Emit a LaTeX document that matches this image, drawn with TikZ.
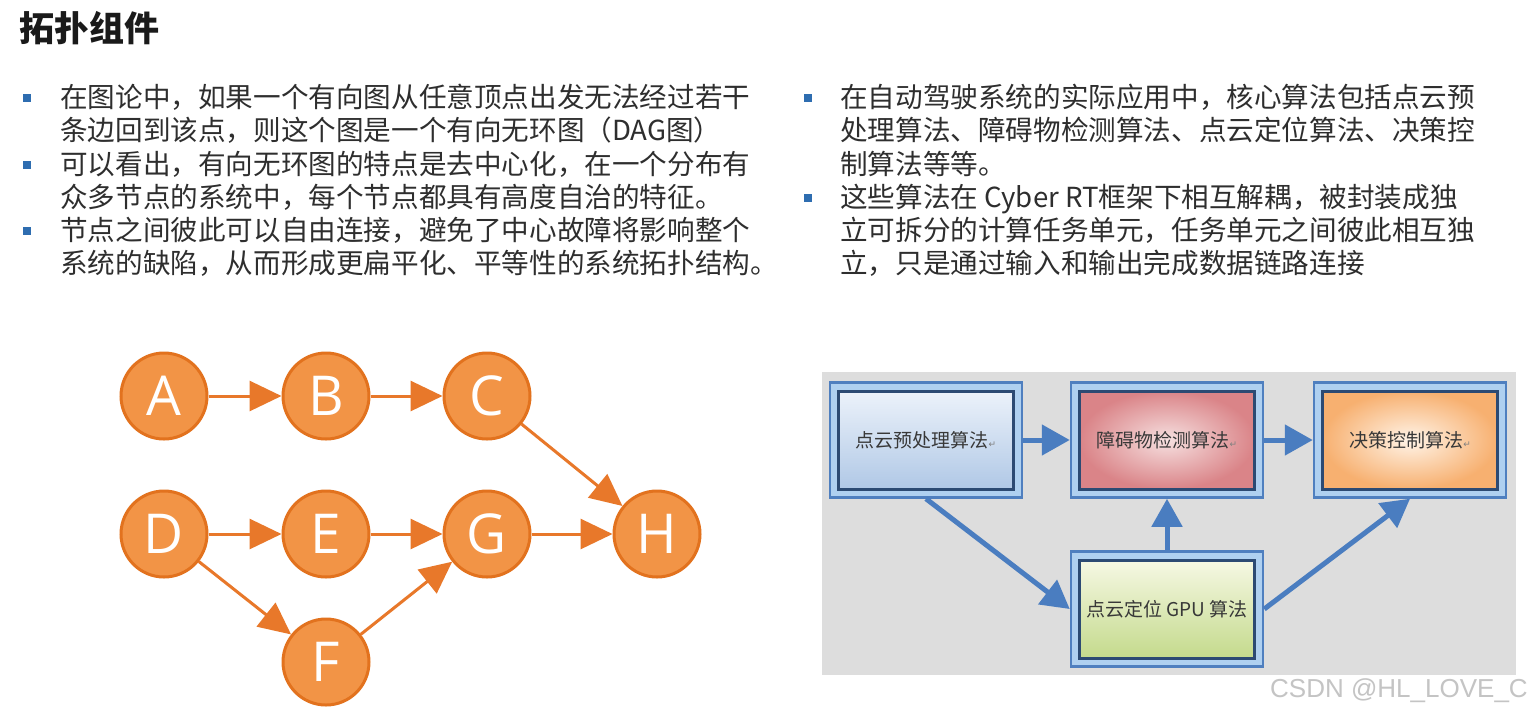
\documentclass[tikz,border=0pt]{standalone}
\usepackage{fontspec}
\newfontfamily\cjk{Noto Sans CJK SC}
\newfontfamily\letf{Open Sans}
\newfontfamily\wmf{Liberation Sans}
\newfontfamily\symf{DejaVu Sans}
\usetikzlibrary{arrows.meta}
\definecolor{txtgray}{HTML}{2E2E2E}
\definecolor{titleblk}{HTML}{1A1A1A}
\definecolor{bulletblue}{HTML}{2E6DB0}
\definecolor{ofill}{HTML}{F29446}
\definecolor{oborder}{HTML}{E2721E}
\definecolor{oarrow}{HTML}{E8782A}
\definecolor{bggray}{HTML}{DDDDDD}
\definecolor{frameout}{HTML}{4F7FBF}
\definecolor{frameband}{HTML}{AFD0F0}
\definecolor{frameinner}{HTML}{2C4A73}
\definecolor{barrow}{HTML}{4A7DC0}
\definecolor{boxtxt}{HTML}{383838}
\definecolor{wmgray}{HTML}{C4C4C4}
\newcommand{\retmark}{{\symf\fontsize{9}{9}\selectfont\color{gray}↵}}
\begin{document}
\begin{tikzpicture}[x=1pt,y=-1pt,
  txt/.style={inner sep=0, anchor=base west, text=txtgray, font=\cjk\fontsize{27.6}{33}\selectfont},
  bulletsq/.style={rectangle, fill=bulletblue, minimum size=8pt, inner sep=0},
  circnode/.style={circle, draw=oborder, fill=ofill, line width=3pt, minimum size=86pt, inner sep=0, text=white, font=\letf\fontsize{55}{55}\selectfont},
  oarr/.style={draw=oarrow, line width=3pt, -{Triangle[length=32pt,width=30pt]}},
  frame/.style={rectangle, draw=frameout, fill=frameband, line width=2.5pt, minimum width=192pt, minimum height=115pt, inner sep=0},
  innerbox/.style={rectangle, draw=frameinner, line width=3pt, minimum width=175pt, minimum height=98pt, inner sep=0, text=boxtxt, font=\cjk\fontsize{19}{22}\selectfont},
  barr/.style={draw=barrow, line width=5pt, -{Triangle[length=28pt,width=30pt]}}
]
\useasboundingbox[fill=white] (0,0) rectangle (1538,716);

% title
\node[inner sep=0, anchor=base west, text=titleblk, font=\cjk\bfseries\fontsize{35}{40}\selectfont] (title) at (19,41) {拓扑组件};

% left column
\node[bulletsq] (bl1) at (27,98) {};
\node[bulletsq] (bl2) at (27,165) {};
\node[bulletsq] (bl3) at (27,231) {};
\node[txt] (l1) at (60,107.5) {在图论中，如果一个有向图从任意顶点出发无法经过若干};
\node[txt] (l2) at (60,140.5) {条边回到该点，则这个图是一个有向无环图（DAG图）};
\node[txt] (l3) at (60,174.5) {可以看出，有向无环图的特点是去中心化，在一个分布有};
\node[txt] (l4) at (60,207.5) {众多节点的系统中，每个节点都具有高度自治的特征。};
\node[txt] (l5) at (60,240.5) {节点之间彼此可以自由连接，避免了中心故障将影响整个};
\node[txt] (l6) at (60,273.5) {系统的缺陷，从而形成更扁平化、平等性的系统拓扑结构。};

% right column
\node[bulletsq] (br1) at (808,98) {};
\node[bulletsq] (br2) at (808,198) {};
\node[txt] (r1) at (840,107.5) {在自动驾驶系统的实际应用中，核心算法包括点云预};
\node[txt] (r2) at (840,140.5) {处理算法、障碍物检测算法、点云定位算法、决策控};
\node[txt] (r3) at (840,174.5) {制算法等等。};
\node[txt] (r4) at (840,207.5) {这些算法在 Cyber RT框架下相互解耦，被封装成独};
\node[txt] (r5) at (840,240.5) {立可拆分的计算任务单元，任务单元之间彼此相互独};
\node[txt] (r6) at (840,273.5) {立，只是通过输入和输出完成数据链路连接};

% DAG
\node[circnode] (A) at (164,396) {A};
\node[circnode] (B) at (326,396) {B};
\node[circnode] (C) at (487,396) {C};
\node[circnode] (D) at (164,534) {D};
\node[circnode] (E) at (326,534) {E};
\node[circnode] (G) at (487,534) {G};
\node[circnode] (H) at (657,534) {H};
\node[circnode] (F) at (326,662) {F};
\draw[oarr] (A) -- (B);
\draw[oarr] (B) -- (C);
\draw[oarr] (C) -- (H);
\draw[oarr] (D) -- (E);
\draw[oarr] (E) -- (G);
\draw[oarr] (G) -- (H);
\draw[oarr] (D) -- (F);
\draw[oarr] (F) -- (G);

% right diagram
\fill[bggray] (822,372) rectangle (1516,675);
\node[frame] (f1) at (926,440) {};
\node[frame] (f2) at (1167,440) {};
\node[frame] (f3) at (1410,440) {};
\node[frame] (f4) at (1167,609) {};
\node[innerbox, top color={rgb,255:red,236;green,242;blue,250}, bottom color={rgb,255:red,176;green,200;blue,230}] (b1) at (f1) {点云预处理算法\retmark};
\node[innerbox, inner color={rgb,255:red,246;green,224;blue,224}, outer color={rgb,255:red,218;green,132;blue,136}] (b2) at (f2) {障碍物检测算法\retmark};
\node[innerbox, inner color={rgb,255:red,255;green,244;blue,232}, outer color={rgb,255:red,247;green,176;blue,112}] (b3) at (f3) {决策控制算法\retmark};
\node[innerbox, top color={rgb,255:red,246;green,248;blue,228}, bottom color={rgb,255:red,196;green,218;blue,140}] (b4) at (f4) {点云定位 GPU 算法};
\draw[barr] (f1) -- (f2);
\draw[barr] (f2) -- (f3);
\draw[barr] (f4) -- (f2);
\draw[barr] (f1.south) -- (f4.west);
\draw[barr] (f4.east) -- (f3.south);

% watermark
\node[inner sep=0, text=wmgray, font=\wmf\fontsize{26}{26}\selectfont] (wm) at (1399,691) {CSDN @HL\_LOVE\_C};
\end{tikzpicture}
\end{document}
